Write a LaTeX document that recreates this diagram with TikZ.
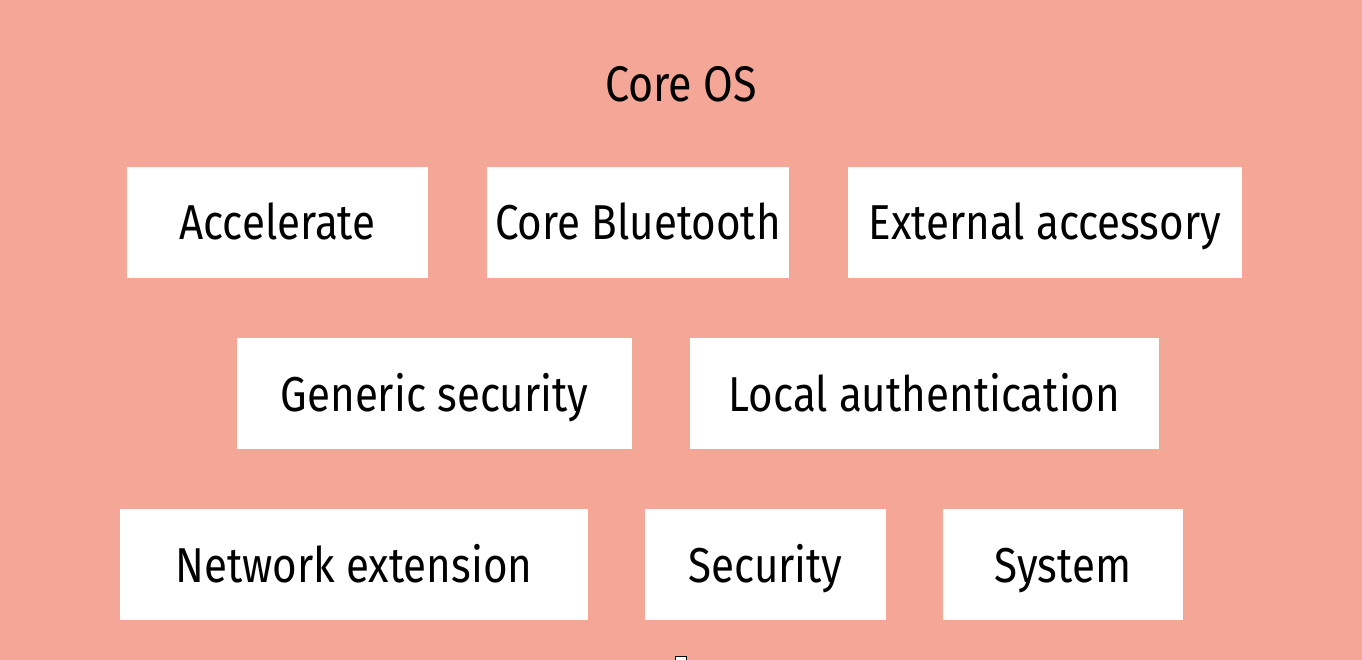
\documentclass[tikz,border=0pt]{standalone}
\usepackage{fontspec}
\setmainfont{Fira Sans}[FakeStretch=0.86]
\definecolor{bg}{RGB}{244,167,150}
\begin{document}
\begin{tikzpicture}[x=1pt,y=-1pt,
  box/.style={fill=white,draw=none,inner sep=0pt,font=\fontsize{49}{56}\selectfont,text=black},
  ttl/.style={font=\fontsize{50}{58}\selectfont,text=black}]
\fill[bg] (0,0) rectangle (1362,660);
\useasboundingbox (0,0) rectangle (1362,660);
\node[ttl,anchor=base] (title) at (681,102) {Core OS};
\newcommand{\mybox}[6]{%
  \fill[white] (#2,#3) rectangle (#4,#5);
  \node[box,anchor=base] (#1) at ({(#2+#4)/2},{(#3+#5)/2+17.5}) {#6};}
\mybox{acc}{127}{167}{428}{278}{Accelerate}
\mybox{cbt}{487}{167}{789}{278}{Core Bluetooth}
\mybox{ext}{848}{167}{1242}{278}{External accessory}
\mybox{gen}{237}{338}{632}{449}{Generic security}
\mybox{loc}{690}{338}{1159}{449}{Local authentication}
\mybox{net}{120}{509}{588}{620}{Network extension}
\mybox{sec}{645}{509}{886}{620}{Security}
\mybox{sys}{943}{509}{1183}{620}{System}
\draw[black,fill=white,line width=1pt] (675.5,656.5) rectangle (686.5,664);
\end{tikzpicture}
\end{document}
